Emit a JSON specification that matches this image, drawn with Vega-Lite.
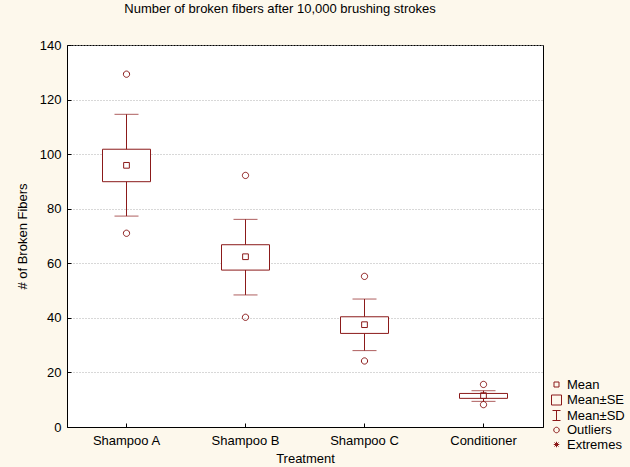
{
  "$schema": "https://vega.github.io/schema/vega-lite/v6.json",
  "width": 476,
  "height": 382,
  "autosize": {"type": "none"},
  "padding": {"left": 67, "top": 45, "right": 87, "bottom": 40},
  "background": "#fdf8ec",
  "title": {
    "text": "Number of broken fibers after 10,000 brushing strokes",
    "font": "Liberation Sans",
    "fontSize": 13,
    "fontWeight": "normal",
    "color": "black",
    "anchor": "middle",
    "dx": -25,
    "baseline": "alphabetic",
    "offset": 13
  },
  "datasets": {
    "summary": [
      {"treatment": "Shampoo A", "se_low": 89.9, "se_high": 101.8, "sd_low": 77.3, "sd_high": 114.6},
      {"treatment": "Shampoo B", "se_low": 57.5, "se_high": 66.8, "sd_low": 48.4, "sd_high": 76.1},
      {"treatment": "Shampoo C", "se_low": 34.3, "se_high": 40.4, "sd_low": 28.0, "sd_high": 46.9},
      {"treatment": "Conditioner", "se_low": 10.5, "se_high": 12.3, "sd_low": 9.4, "sd_high": 13.3}
    ],
    "points": [
      {"treatment": "Shampoo A", "stat": "Mean", "value": 95.9},
      {"treatment": "Shampoo B", "stat": "Mean", "value": 62.4},
      {"treatment": "Shampoo C", "stat": "Mean", "value": 37.5},
      {"treatment": "Conditioner", "stat": "Mean", "value": 11.5},
      {"treatment": "Shampoo A", "stat": "Outliers", "value": 129.3},
      {"treatment": "Shampoo A", "stat": "Outliers", "value": 71.0},
      {"treatment": "Shampoo B", "stat": "Outliers", "value": 92.2},
      {"treatment": "Shampoo B", "stat": "Outliers", "value": 40.2},
      {"treatment": "Shampoo C", "stat": "Outliers", "value": 55.2},
      {"treatment": "Shampoo C", "stat": "Outliers", "value": 24.2},
      {"treatment": "Conditioner", "stat": "Outliers", "value": 15.6},
      {"treatment": "Conditioner", "stat": "Outliers", "value": 8.2}
    ]
  },
  "config": {
    "view": {"fill": "white", "stroke": "black", "strokeWidth": 1},
    "font": "Liberation Sans",
    "axis": {
      "labelFont": "Liberation Sans",
      "labelFontSize": 13,
      "labelColor": "black",
      "titleFont": "Liberation Sans",
      "titleFontSize": 13,
      "titleFontWeight": "normal",
      "titleColor": "black",
      "domainColor": "black",
      "tickColor": "black",
      "tickSize": -4,
      "labelPadding": 11
    }
  },
  "encoding": {
    "x": {
      "field": "treatment",
      "type": "nominal",
      "sort": ["Shampoo A", "Shampoo B", "Shampoo C", "Conditioner"],
      "scale": {"paddingInner": 0, "paddingOuter": 0},
      "axis": {"title": "Treatment", "labelAngle": 0, "grid": false, "titlePadding": 5}
    }
  },
  "layer": [
    {
      "data": {"name": "summary"},
      "mark": {"type": "rule", "color": "#8b1a1a", "strokeWidth": 1},
      "encoding": {
        "y": {
          "field": "sd_low",
          "type": "quantitative",
          "scale": {"domain": [0, 140], "nice": false},
          "axis": {
            "title": "# of Broken Fibers",
            "values": [0, 20, 40, 60, 80, 100, 120, 140],
            "grid": true,
            "gridColor": "#b0b0b0",
            "gridDash": [1, 2],
            "gridWidth": 1,
            "labelPadding": 10,
            "titlePadding": 10
          }
        },
        "y2": {"field": "sd_high"}
      }
    },
    {
      "data": {"name": "summary"},
      "mark": {"type": "tick", "color": "#8b1a1a", "size": 24, "thickness": 1},
      "encoding": {"y": {"field": "sd_low", "type": "quantitative"}}
    },
    {
      "data": {"name": "summary"},
      "mark": {"type": "tick", "color": "#8b1a1a", "size": 24, "thickness": 1},
      "encoding": {"y": {"field": "sd_high", "type": "quantitative"}}
    },
    {
      "data": {"name": "summary"},
      "mark": {"type": "bar", "size": 48, "fill": "white", "stroke": "#8b1a1a", "strokeWidth": 1},
      "encoding": {
        "y": {"field": "se_low", "type": "quantitative"},
        "y2": {"field": "se_high"}
      }
    },
    {
      "data": {"name": "points"},
      "mark": {"type": "point", "filled": false, "stroke": "#8b1a1a", "strokeWidth": 1, "size": 130, "opacity": 1},
      "encoding": {
        "y": {"field": "value", "type": "quantitative"},
        "shape": {
          "field": "stat",
          "type": "nominal",
          "scale": {
            "domain": ["Mean", "Mean±SE", "Mean±SD", "Outliers", "Extremes"],
            "range": [
              "M-0.5,-0.5H0.5V0.5H-0.5Z",
              "M-1,-1H1V1H-1Z",
              "M-0.8,-1H0.8M0,-1V1M-0.8,1H0.8",
              "M-0.55,0A0.55,0.55 0 1,0 0.55,0A0.55,0.55 0 1,0 -0.55,0Z",
              "M-0.55,0H0.55M0,-0.55V0.55M-0.4,-0.4L0.4,0.4M-0.4,0.4L0.4,-0.4"
            ]
          },
          "legend": {
            "title": null,
            "orient": "none",
            "legendX": 483,
            "legendY": 333,
            "padding": 0,
            "symbolSize": 100,
            "symbolStrokeColor": "#8b1a1a",
            "symbolFillColor": "transparent",
            "symbolStrokeWidth": 1,
            "labelFont": "Liberation Sans",
            "labelFontSize": 13,
            "labelColor": "black",
            "labelOffset": 4,
            "rowPadding": 0.5
          }
        }
      }
    }
  ]
}
